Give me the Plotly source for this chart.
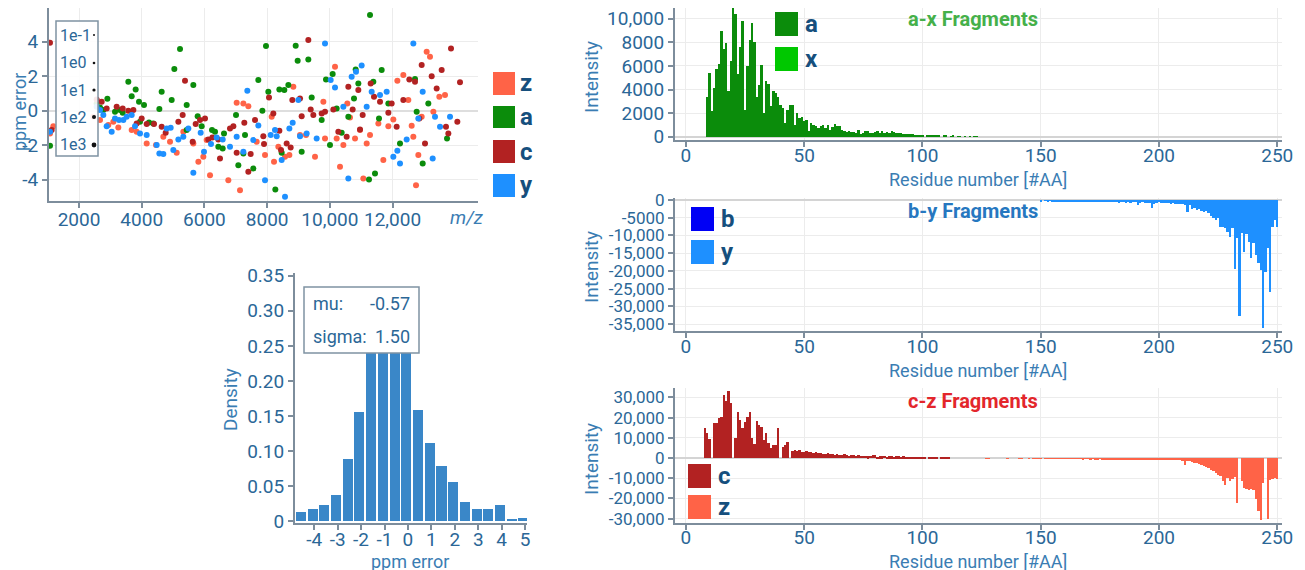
import plotly.graph_objects as go

W, H = 1305, 570
OFF = 8  # page offset of the plot inside the browser window
FONT = "Roboto"
FS = 19
TICK_COLOR = "#2b6797"
TITLE_COLOR = "#3a7db3"
LEG_COLOR = "#164f7d"
AXIS_LINE = "#7d8d9c"
GRID = "#ececec"
COL = {"z": "#FF6347", "a": "#0b8c0b", "c": "#B22222", "y": "#1E90FF", "x": "#00C800", "b": "#0000F5"}

z_mz = [1075, 1181, 2457, 2670, 2935, 3095, 3254, 3680, 3839, 4158, 4456, 4689, 4902, 5115, 5327, 5646, 5806,
        5965, 6178, 6762, 7134, 7241, 7400, 7666, 7932, 8144, 8219, 8357, 8569, 8708, 8835, 9048, 9239, 9526,
        9792, 9845, 10164, 10217, 10323, 10430, 10557, 10642, 10802, 10961, 11067, 11174, 11546, 11705, 11865,
        12024, 12152, 12343, 12502, 12609, 12662, 12821, 12928, 12747, 13087, 13193, 13300, 13491, 13672, 11280,
        7028, 6071]
z_ppm = [-1.31, -0.89, -0.35, -0.54, -0.83, -0.64, -0.97, -1.12, -1.22, -1.89, -1.99, -1.51, -1.80, -2.43, -1.22,
         -1.89, -2.96, -2.67, -3.73, -4.02, -4.60, 0.43, 0.27, -1.80, -2.57, -0.35, -2.96, -2.09, -2.67, -2.57, 1.39,
         -1.41, -1.41, -2.67, 0.52, -1.60, 2.55, -1.60, -3.25, -1.99, 0.43, -0.39, -1.60, -1.12, -3.92, -1.89, -0.73,
         -2.86, -0.89, -0.50, 1.74, 2.07, 0.62, -0.87, -1.51, -2.57, -0.35, -4.31, 3.42, 3.13, -0.06, 0.81, 0.91,
         -1.41, 0.46, -1.70]

a_mz = [1075, 2670, 2776, 2904, 3148, 3307, 3393, 3573, 3680, 3807, 3913, 4073, 4232, 4370, 4562, 4636, 4955, 5040,
        5221, 5434, 5646, 5784, 5912, 6241, 6337, 6443, 6582, 6624, 7007, 7081, 7241, 7294, 7559, 7719, 7847, 7963,
        8038, 8261, 8389, 8463, 8548, 8676, 8910, 8973, 9101, 9313, 9420, 9739, 9877, 10004, 10089, 10217, 10376,
        10589, 10770, 10823, 10908, 11248, 11280, 11386, 11439, 11567, 11652, 11865, 12237, 12715, 12768, 12960,
        13140, 13736, 3945, 5434, 2563]
a_ppm = [-2.03, 0.19, 0.04, 0.70, -0.06, 0.04, -0.12, 1.68, 0.85, 1.24, 0.52, 0.33, -0.68, -0.73, 0.10, 1.10, 0.62,
         2.42, 3.59, 0.33, 1.49, -0.31, -0.89, -1.12, -1.22, -2.09, -2.18, -1.31, -0.25, -3.15, -2.47, -1.41, -3.34,
         1.78, 0.00, 3.75, 1.10, -4.56, 1.24, -2.43, 1.20, 1.49, 3.77, 2.90, -2.38, 2.98, 0.77, -0.54, 1.82, -1.99,
         2.13, 0.14, -1.28, -0.35, 0.72, 2.40, 1.58, -3.98, 5.55, 1.68, -3.63, -0.44, 2.36, 0.43, -1.89, 1.84, -0.06,
         -3.05, 0.43, -1.60, -0.64, -1.12, 0.43]

c_mz = [1075, 1128, 2563, 2723, 2882, 3201, 3393, 3573, 3733, 3839, 3998, 4158, 4392, 4636, 4764, 5168, 5306, 5380,
        5625, 5721, 5859, 6018, 6124, 6252, 6443, 6496, 6815, 6922, 7028, 7272, 7400, 7474, 7613, 7878, 7900, 8059,
        8197, 8389, 8442, 8622, 8750, 8803, 9048, 9101, 9313, 9388, 9473, 9739, 9845, 10111, 10270, 10536, 10589,
        10727, 10908, 10961, 11046, 11301, 11408, 11599, 11865, 11971, 12130, 12343, 12534, 12715, 12853, 12928,
        13034, 13247, 13406, 13565, 13703, 13863, 14150, 13778, 14065]
c_ppm = [3.95, -1.12, 0.66, 0.52, 0.14, 0.23, 0.14, 0.00, 0.04, -0.73, -0.44, -0.77, -0.77, -0.93, -1.28, -0.64,
         -0.25, 1.74, -1.80, -0.77, -0.54, -0.44, -1.66, -1.55, -1.66, -2.76, -1.02, -0.89, -2.43, -0.70, -3.54,
         -2.51, -0.54, -1.47, -1.93, 0.77, -0.15, -1.16, -2.28, -1.89, -2.13, 0.62, 0.71, -0.31, 4.10, 0.08, -0.25,
         -0.15, -0.06, 0.08, -1.22, -1.51, 1.39, 0.08, 1.20, -1.08, -0.25, 1.58, 0.81, 0.52, -0.12, 0.43, -0.93,
         0.62, 1.82, 1.68, -0.44, 2.65, -1.89, 2.01, 1.29, 2.36, -0.93, 3.61, 1.66, -1.31, -0.64]

y_mz = [1075, 2563, 2670, 2776, 2882, 3042, 3148, 3276, 3414, 3520, 3680, 3786, 3945, 4158, 4477, 4562, 4689, 4796,
        4923, 5008, 5168, 5327, 5487, 5646, 5880, 5986, 6209, 6390, 6582, 6815, 7028, 7241, 7368, 7559, 7719, 7932,
        8112, 8250, 8304, 8463, 8569, 8708, 8814, 8995, 9048, 9579, 9845, 10026, 10164, 10430, 10695, 10833, 11014,
        11174, 11333, 11599, 11811, 12024, 12152, 12237, 12449, 12662, 12821, 12960, 13279, 13353, 13513, 10589,
        9260, 13832]
y_ppm = [-1.22, 0.23, 0.04, -0.25, -0.89, -1.22, -0.44, -0.54, -0.54, -0.35, -0.25, -0.89, -1.31, -1.41, -1.99,
         -2.47, -2.51, -1.02, -0.99, -2.28, -1.66, -1.51, -1.02, -3.59, -1.28, -2.38, -1.93, -1.55, -1.66, -2.09,
         -1.51, -2.38, 1.16, -1.70, -0.85, -4.02, -1.41, -1.12, -1.47, -2.86, -4.99, -1.02, -0.70, 0.62, -1.47, -1.60,
         3.90, 1.78, 1.35, 0.23, 1.97, 2.26, 2.63, 0.23, 1.10, 0.91, 1.10, -2.67, -2.32, -3.05, -1.66, 3.90, -0.44,
         1.10, -2.76, -0.35, -0.93, -3.92, -1.31, -0.35]

mz_ticks = [2000, 4000, 6000, 8000, 10000, 12000]
mz_ticktext = ["2000", "4000", "6000", "8000", "10,000", "12,000"]
ppm_ticks = [-4, -2, 0, 2, 4]
ppm_ticktext = ["-4", "-2", "0", "2", "4"]
size_legend_labels = ["1e-1", "1e0", "1e1", "1e2", "1e3"]

hist_centers = [-4.57, -4.07, -3.57, -3.07, -2.57, -2.07, -1.57, -1.07, -0.57, -0.07,
                0.43, 0.93, 1.43, 1.93, 2.43, 2.93, 3.43, 3.93, 4.43, 4.93]
hist_density = [0.0133, 0.0176, 0.0233, 0.037, 0.089, 0.155, 0.28, 0.30, 0.31, 0.28,
                0.158, 0.112, 0.079, 0.055, 0.027, 0.0176, 0.0176, 0.0233, 0.0019, 0.0043]
hist_xticks = [-4, -3, -2, -1, 0, 1, 2, 3, 4, 5]
hist_xticktext = ["-4", "-3", "-2", "-1", "0", "1", "2", "3", "4", "5"]
hist_yticks = [0, 0.05, 0.10, 0.15, 0.20, 0.25, 0.30, 0.35]
hist_yticktext = ["0", "0.05", "0.10", "0.15", "0.20", "0.25", "0.30", "0.35"]
mu_text = "-0.57"
sigma_text = "1.50"

a_start = 9
a_int = [3400, 5400, 2200, 4100, 5700, 6200, 9000, 7400, 7900, 3900,
         6400, 11000, 10400, 5300, 7600, 9800, 2300, 6000, 8200, 9600,
         8000, 3400, 4400, 6100, 2000, 4700, 4500, 2600, 3900, 3700,
         3400, 2700, 2400, 1200, 2300, 2700, 2700, 1000, 2000, 1600,
         1700, 1300, 1400, 500, 1200, 1000, 900, 700, 900, 1000,
         700, 1000, 600, 800, 1100, 900, 900, 600, 500, 400,
         500, 400, 400, 300, 600, 200, 300, 500, 500, 300,
         300, 400, 500, 300, 500, 300, 400, 300, 500, 400,
         300, 300, 300, 250, 200, 250, 200, 200, 150, 150,
         100, 100, 0, 150, 100, 120, 80, 80, 60, 0,
         80, 60, 0, 50, 70, 0, 50, 40, 0, 50,
         0, 40, 0, 40, 30]
x_res = []
x_int = []
b_res = []
b_int = []

c_start = 8
c_int = [14700, 12200, 9400, 0, 17200, 17500, 20000, 20500, 31200, 28300,
         33400, 27000, 0, 9700, 23000, 18800, 14700, 18000, 20500, 23000,
         9700, 6800, 18300, 16400, 15500, 8900, 12200, 7300, 4800, 6400,
         6400, 15000, 0, 5600, 6400, 8100, 0, 3600, 4000, 3400,
         3800, 3200, 3000, 3400, 2800, 3000, 2600, 2800, 2500, 2700,
         2200, 2000, 2400, 1800, 2000, 1500, 1900, 1700, 1400, 1800,
         1500, 1200, 1500, 1300, 1100, 1400, 1000, 1200, 1000, 900,
         1100, 1500, 1300, 400, 900, 800, 1000, 700, 800, 900,
         700, 800, 900, 600, 800, 700, 600, 700, 500, 600,
         600, 500, 600, 500, 0, 500, 400, 500, 400, 0,
         500, 500, 400, 400, 0]

z_start = 127
z_int = [200, 150, 0, 0, 0, 0, 0, 0, 0, 100, 0, 0, 0, 0, 150, 100, 0, 0, 200, 0, 250, 200, 300, 250,
         0, 300, 200, 300, 350, 250, 300, 400, 300, 350,
         300, 400, 350, 400, 350, 450, 400, 500, 450, 400,
         500, 450, 600, 500, 450, 550, 500, 600, 550, 500,
         600, 700, 550, 600, 650, 700, 550, 600, 650, 500,
         700, 600, 650, 700, 600, 700, 650, 600, 700, 500,
         600, 650, 700, 800, 800, 900, 1000, 1200, 1100, 1400,
         3400, 1300, 1600, 1900, 2300, 2600, 2900, 3400, 3700, 4200,
         5000, 5800, 6500, 7300, 8300, 9100, 11500, 13200, 10000, 11500,
         10400, 9200, 22400, 0, 11500, 14800, 15200, 15600, 15500, 16000,
         20500, 26200, 30500, 12400, 0, 30000, 10700, 10500, 10000, 10200]

y_start = 150
y_int = [300, 0, 200, 300, 250, 300, 400, 300, 350, 400,
         300, 450, 400, 350, 500, 400, 450, 600, 400, 500,
         550, 450, 600, 500, 550, 450, 600, 700, 500, 600,
         650, 600, 700, 800, 600, 700, 750, 700, 800, 650,
         700, 1400, 800, 700, 850, 750, 800, 2300, 1000, 800,
         700, 750, 800, 900, 800, 1000, 900, 1100, 1000, 1200,
         1100, 1400, 3500, 1500, 2600, 2300, 2800, 2500, 3000, 3300,
         3200, 3800, 4400, 5000, 5600, 5200, 7500, 7500, 8000, 9000,
         10300, 8000, 19500, 10800, 32600, 9400, 14600, 9700, 11800, 16400,
         12200, 15500, 17900, 19700, 36200, 20200, 13500, 26000, 7600, 5700,
         7600]

res_ticks = [0, 50, 100, 150, 200, 250]
p1_ticks = [0, 2000, 4000, 6000, 8000, 10000]
p1_text = ["0", "2000", "4000", "6000", "8000", "10,000"]
p2_ticks = [0, -5000, -10000, -15000, -20000, -25000, -30000, -35000]
p2_text = ["0", "-5000", "-10,000", "-15,000", "-20,000", "-25,000", "-30,000", "-35,000"]
p3_ticks = [30000, 20000, 10000, 0, -10000, -20000, -30000]
p3_text = ["30,000", "20,000", "10,000", "0", "-10,000", "-20,000", "-30,000"]


def px(x):
    return (x - OFF) / W


def py(y):
    return min(1.0, 1 - (y - OFF) / H)


fig = go.Figure()

for name, mz, pp in [("z", z_mz, z_ppm), ("a", a_mz, a_ppm), ("c", c_mz, c_ppm), ("y", y_mz, y_ppm)]:
    fig.add_trace(go.Scatter(x=mz, y=pp, mode="markers", name=name, showlegend=False,
                             marker=dict(color=COL[name], size=6, line=dict(width=0)),
                             xaxis="x", yaxis="y"))

fig.add_trace(go.Bar(x=hist_centers, y=hist_density, width=0.43, marker=dict(color="#3a87c8", line=dict(width=0)),
                     showlegend=False, xaxis="x2", yaxis="y2"))


def residues(start, vals):
    return list(range(start, start + len(vals)))


fig.add_trace(go.Bar(x=residues(a_start, a_int), y=a_int, width=1, marker=dict(color=COL["a"], line=dict(width=0)),
                     showlegend=False, xaxis="x3", yaxis="y3"))
fig.add_trace(go.Bar(x=x_res, y=x_int, width=1, marker=dict(color=COL["x"], line=dict(width=0)),
                     showlegend=False, xaxis="x3", yaxis="y3"))
fig.add_trace(go.Bar(x=b_res, y=b_int, width=1, marker=dict(color=COL["b"], line=dict(width=0)),
                     showlegend=False, xaxis="x4", yaxis="y4"))
fig.add_trace(go.Bar(x=residues(y_start, y_int), y=[-v for v in y_int], width=1,
                     marker=dict(color=COL["y"], line=dict(width=0)), showlegend=False, xaxis="x4", yaxis="y4"))
fig.add_trace(go.Bar(x=residues(c_start, c_int), y=c_int, width=1, marker=dict(color=COL["c"], line=dict(width=0)),
                     showlegend=False, xaxis="x5", yaxis="y5"))
fig.add_trace(go.Bar(x=residues(z_start, z_int), y=[-v for v in z_int], width=1,
                     marker=dict(color=COL["z"], line=dict(width=0)), showlegend=False, xaxis="x5", yaxis="y5"))

tickfont = dict(family=FONT, size=FS, color=TICK_COLOR)
common = dict(showline=True, linecolor=AXIS_LINE, linewidth=2, ticks="outside", ticklen=5, tickwidth=1.5,
              tickcolor=AXIS_LINE, tickfont=tickfont, showgrid=True, gridcolor=GRID, gridwidth=1, automargin=False,
              ticklabeloverflow="allow")
xcommon = {**common, "ticklabelstandoff": -5}
xbottom = {**common, "ticklabelstandoff": -8}
nogrid_x = {**common, "ticklabelstandoff": -7, "showgrid": False}
nogrid_y = {**common, "showgrid": False}
dense_y = {**common, "tickfont": dict(family=FONT, size=17, color=TICK_COLOR)}

layout = dict(
    width=W, height=H, margin=dict(l=0, r=0, t=0, b=0, pad=0, autoexpand=False), plot_bgcolor="white",
    paper_bgcolor="white", showlegend=False,
    font=dict(family=FONT, size=FS, color=TICK_COLOR), barmode="overlay", bargap=0,
    xaxis=dict(domain=[px(49), px(478)], range=[1043, 14724], anchor="y", tickvals=mz_ticks, ticktext=mz_ticktext,
               zeroline=False, **xcommon),
    yaxis=dict(domain=[py(201), py(8)], range=[-5.23, 5.96], anchor="x", tickvals=ppm_ticks, ticktext=ppm_ticktext,
               zeroline=True, zerolinecolor="#dedede", zerolinewidth=1.5, **common),
    xaxis2=dict(domain=[px(295), px(527)], range=[-4.82, 5.08], anchor="y2", tickvals=hist_xticks,
                ticktext=hist_xticktext, zeroline=False, **nogrid_x),
    yaxis2=dict(domain=[py(523), py(273)], range=[-0.0029, 0.354], anchor="x2", tickvals=hist_yticks,
                ticktext=hist_yticktext, zeroline=False, **nogrid_y),
    xaxis3=dict(domain=[px(675), px(1282)], range=[-4.6, 252], anchor="y3", tickvals=res_ticks, zeroline=False,
                **xbottom),
    yaxis3=dict(domain=[py(140), py(8)], range=[-280, 10907], anchor="x3", tickvals=p1_ticks, ticktext=p1_text,
                zeroline=True, zerolinecolor="#d4d4d4", zerolinewidth=2, **common),
    xaxis4=dict(domain=[px(675), px(1282)], range=[-4.6, 252], anchor="y4", tickvals=res_ticks, zeroline=False,
                **xbottom),
    yaxis4=dict(domain=[py(331), py(198)], range=[-36970, 565], anchor="x4", tickvals=p2_ticks, ticktext=p2_text,
                zeroline=True, zerolinecolor="#d4d4d4", zerolinewidth=2, **dense_y),
    xaxis5=dict(domain=[px(675), px(1282)], range=[-4.6, 252], anchor="y5", tickvals=res_ticks, zeroline=False,
                **xbottom),
    yaxis5=dict(domain=[py(522.5), py(388)], range=[-31900, 34650], anchor="x5", tickvals=p3_ticks, ticktext=p3_text,
                zeroline=True, zerolinecolor="#d4d4d4", zerolinewidth=2, **dense_y),
)
fig.update_layout(**layout)

annotations = []
shapes = []


def text(x, y, s, size=FS, color=TITLE_COLOR, angle=0, xanchor="center", bold=False, yanchor="middle"):
    annotations.append(dict(x=px(x), y=1 - (y - OFF) / H, xref="paper", yref="paper",
                            text=("<b>%s</b>" % s) if bold else s,
                            showarrow=False, textangle=angle, xanchor=xanchor, yanchor=yanchor,
                            font=dict(family=FONT, size=size, color=color)))


def rect(x0, y0, x1, y1, fill, line=None, lw=0):
    shapes.append(dict(type="rect", xref="paper", yref="paper", x0=px(x0), x1=px(x1),
                       y0=1 - (y1 - OFF) / H, y1=1 - (y0 - OFF) / H,
                       fillcolor=fill, line=dict(color=line or fill, width=lw), layer="above"))


text(19, 112, "ppm error", size=18, angle=-90)
text(467, 217, "<i>m/z</i>")
text(230, 400, "Density", angle=-90)
text(410, 561, "ppm error", size=18)
for yc, yt in [(77, 179), (267, 370), (459, 561)]:
    text(591, yc, "Intensity", angle=-90)
    text(978, yt, "Residue number [#AA]", size=18)

text(973, 19, "a-x Fragments", size=20, color="#45b04a", bold=True)
text(973, 211, "b-y Fragments", size=20, color="#2677c0", bold=True)
text(973, 401, "c-z Fragments", size=20, color="#e3262b", bold=True)

for name, (y0, y1) in zip(["z", "a", "c", "y"], [(72, 95), (106, 128), (140, 163), (174, 197)]):
    rect(493, y0, 515, y1, COL[name])
    text(518, (y0 + y1) / 2, name, size=24, color=LEG_COLOR, bold=True, xanchor="left")

rect(56, 21, 98, 156, "rgba(255,255,255,0.9)", line="#7f93a3", lw=1.5)
for lab, yc, r in zip(size_legend_labels, [35, 63, 90, 117, 145], [1.0, 1.3, 1.6, 2.0, 2.4]):
    text(58, yc, lab, size=16, color=TICK_COLOR, xanchor="left")
    shapes.append(dict(type="circle", xref="paper", yref="paper", x0=px(94 - r), x1=px(94 + r),
                       y0=1 - (yc + r - OFF) / H, y1=1 - (yc - r - OFF) / H,
                       fillcolor="#111111", line=dict(width=0), layer="above"))

rect(304, 287, 419, 353, "white", line="#7f93a3", lw=1.5)
text(311, 303, "mu:", size=18, color=TICK_COLOR, xanchor="left")
text(412, 303, mu_text, size=18, color=TICK_COLOR, xanchor="right")
text(311, 336, "sigma:", size=18, color=TICK_COLOR, xanchor="left")
text(412, 336, sigma_text, size=18, color=TICK_COLOR, xanchor="right")

for name, (x0, y0) in [("a", (775, 12)), ("x", (775, 47)), ("b", (691, 207)), ("y", (691, 240)),
                       ("c", (688, 464)), ("z", (688, 495))]:
    rect(x0, y0, x0 + 23, y0 + 24, COL[name])
    text(x0 + 28, y0 + 12, name, size=24, color=LEG_COLOR, bold=True, xanchor="left")

fig.update_layout(annotations=annotations, shapes=shapes)
fig.write_html("out.html")
